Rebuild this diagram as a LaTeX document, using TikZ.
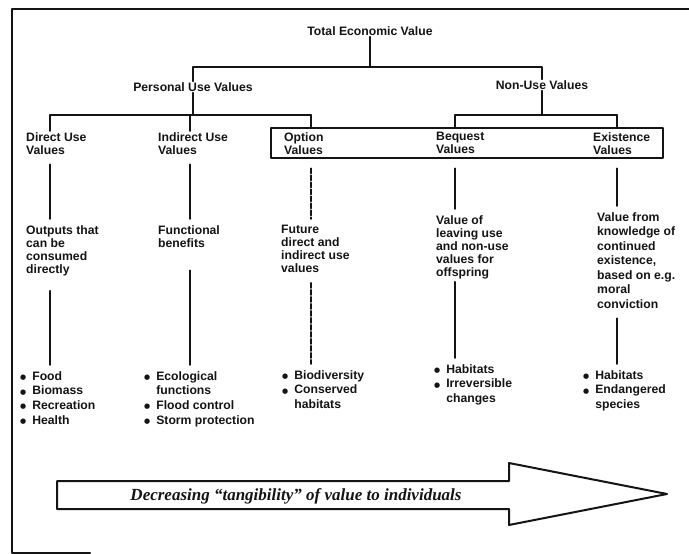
\documentclass[tikz,border=0pt]{standalone}
\usepackage{fontspec}
\setmainfont{Liberation Sans}
\newfontfamily\arrowfont{Liberation Serif}
\newfontfamily\symfont{DejaVu Sans}
\usetikzlibrary{fit}
\definecolor{cink}{HTML}{141414}
\renewcommand{\arraystretch}{1.12}
\newcommand{\blist}[1]{\begin{tabular}{@{}l@{\hspace{6pt}}l@{}}#1\end{tabular}}
\newcommand{\dotb}{\raisebox{0.6pt}{\symfont\fontsize{7}{7}\selectfont ●}}
\def\xD{50}    % direct use column
\def\xI{190}   % indirect use column
\def\xO{311}   % option column
\def\xB{455}   % bequest column
\def\xE{617}   % existence column
\def\yTop{67}  % first bar
\def\yMid{115} % second bar

\begin{document}
\begin{tikzpicture}[x=1pt, y=-1pt, line cap=round, line join=round,
                    font=\fontsize{12.2}{13}\selectfont\bfseries, cink,
                    every node/.style={inner sep=1pt, align=left},
                    txt/.style={anchor=north west},
                    treeline/.style={line width=1.7pt},
                    stemline/.style={line width=1.7pt, shorten <=9pt, shorten >=5pt},
                    hold/.style={line width=2pt}]

% =================== page and frame ===================
\fill[white] (0,0) rectangle (689,554);
\useasboundingbox (0,0) rectangle (689,554);
\draw[line width=2.4pt] (689,9) -- (12,9) -- (12,553) -- (90,553);

% =================== top of the tree ===================
\node (tev) at (370,31) {Total Economic Value};
\node (puv) at (193,87) {Personal Use Values};
\node (nuv) at (542,85) {Non-Use Values};

\coordinate (bar1) at (0,\yTop);
\coordinate (bar2) at (0,\yMid);
\draw[treeline] (tev.south) -- (tev.south |- bar1);
\draw[treeline] (puv.north) -- (puv.north |- bar1) -- (nuv.north |- bar1) -- (nuv.north);
\draw[treeline] (puv.south) -- (puv.south |- bar2);
\draw[treeline] (nuv.south) -- (nuv.south |- bar2);

% =================== value classes ===================
\node[txt] (dir) at (25,131) {Direct Use\\Values};
\node[txt] (ind) at (157,131) {Indirect Use\\Values};
\node[txt] (opt) at (283,131) {Option\\Values};
\node[txt] (beq) at (435,131) {Bequest\\Values};
\node[txt] (ext) at (592,131) {Existence\\Values};
\node[draw, hold, fit=(opt)(beq)(ext), inner xsep=12pt, inner ysep=3pt] (optbox) {};

% column points on the second bars
\foreach \nm/\xc in {cD/\xD, cI/\xI, cO/\xO, cB/\xB, cE/\xE}
  \coordinate (\nm) at (\xc,\yMid);
\draw[treeline] (cD) -- (cO);
\draw[treeline] (cB) -- (cE);
\draw[treeline] (cD) -- (cD |- dir.north);
\draw[treeline] (cI) -- (cI |- ind.north);
\foreach \nm in {cO, cB, cE}
  \draw[treeline] (\nm) -- (\nm |- optbox.north);

% =================== what each value means ===================
\node[txt] (dirtx) at (25,224) {Outputs that\\can be\\consumed\\directly};
\node[txt] (indtx) at (157,224) {Functional\\benefits};
\node[txt] (opttx) at (280,224) {Future\\direct and\\indirect use\\values};
\node[txt] (beqtx) at (435,214) {Value of\\leaving use\\and non-use\\values for\\offspring};
\node[txt, font=\fontsize{12.2}{14.5}\selectfont\bfseries] (exttx) at (596,211)
  {Value from\\knowledge of\\continued\\existence,\\based on e.g.\\moral\\conviction};

\draw[stemline] (dir.south -| cD) -- (dirtx.north -| cD);
\draw[stemline] (ind.south -| cI) -- (indtx.north -| cI);
\draw[stemline, dash pattern=on 5pt off 2pt] (optbox.south -| cO) -- (opttx.north -| cO);
\draw[stemline] (optbox.south -| cB) -- (beqtx.north -| cB);
\draw[stemline] (optbox.south -| cE) -- (exttx.north -| cE);

% =================== examples ===================
\node[txt, inner sep=0pt] (dirls) at (20,370)
  {\blist{\dotb & Food\\ \dotb & Biomass\\ \dotb & Recreation\\ \dotb & Health}};
\node[txt, inner sep=0pt] (indls) at (144,370)
  {\blist{\dotb & Ecological\\ & functions\\ \dotb & Flood control\\ \dotb & Storm protection}};
\node[txt, inner sep=0pt] (optls) at (282,369)
  {\blist{\dotb & Biodiversity\\ \dotb & Conserved\\ & habitats}};
\node[txt, inner sep=0pt] (beqls) at (434,363)
  {\blist{\dotb & Habitats\\ \dotb & Irreversible\\ & changes}};
\node[txt, inner sep=0pt] (extls) at (583,369)
  {\blist{\dotb & Habitats\\ \dotb & Endangered\\ & species}};

\draw[stemline, shorten <=14pt] (dirtx.south -| cD) -- (dirls.north -| cD);
\draw[stemline, shorten <=22pt] (indtx.south -| cI) -- (indls.north -| cI);
\draw[stemline, dash pattern=on 5pt off 2pt] (opttx.south -| cO) -- (optls.north -| cO);
\draw[stemline, shorten <=2pt] (beqtx.south -| cB) -- (beqls.north -| cB);
\draw[stemline] (exttx.south -| cE) -- (extls.north -| cE);

% =================== tangibility arrow ===================
\draw[hold] (57,481) -- (509,481) -- (509,463) -- (667,494) -- (509,525)
  -- (509,509) -- (57,509) -- cycle;
\node (tang) at (296,496)
  {\arrowfont\fontsize{17}{18}\selectfont\bfseries\itshape
   Decreasing “tangibility” of value to individuals};

\end{tikzpicture}
\end{document}
